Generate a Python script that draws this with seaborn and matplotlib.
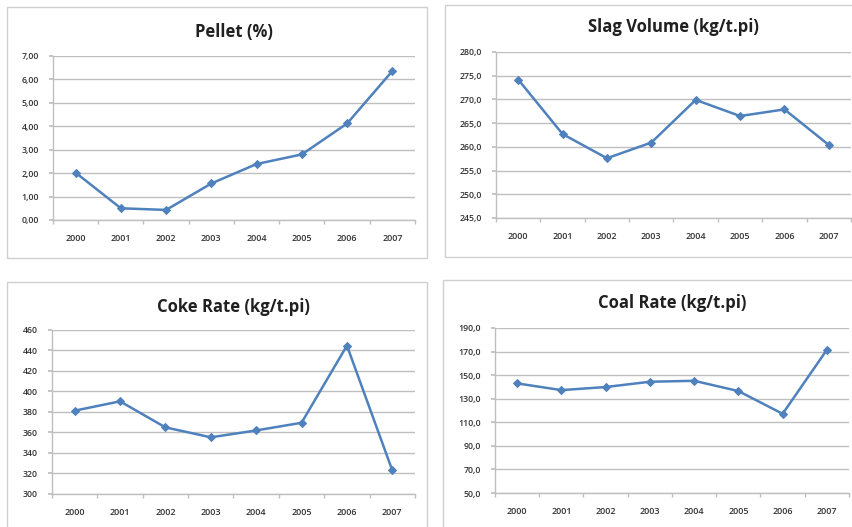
import numpy as np
import pandas as pd
import matplotlib
matplotlib.use("Agg")
import matplotlib.pyplot as plt
from matplotlib.patches import Rectangle
from matplotlib.ticker import FuncFormatter
import seaborn as sns

years = ["2000", "2001", "2002", "2003", "2004", "2005", "2006", "2007"]

pellet = [2.02, 0.50, 0.43, 1.56, 2.39, 2.80, 4.12, 6.36]
slag_volume = [274.2, 262.7, 257.6, 260.9, 269.9, 266.5, 267.9, 260.4]
coke_rate = [381.3, 390.4, 365.0, 355.3, 362.0, 369.5, 444.8, 323.0]
coal_rate = [143.0, 137.3, 139.9, 144.4, 145.2, 136.5, 117.2, 171.5]

sns.set_theme(style="white")
plt.rcParams["font.family"] = ["Open Sans", "DejaVu Sans"]

W, H = 853, 527
fig = plt.figure(figsize=(W / 100, H / 100), dpi=100)
fig.patch.set_facecolor("white")

line_col = "#4F81BD"
grid_col = "#BFBFBF"


def px_rect(left, top, right, bottom):
    return [left / W, 1 - bottom / H, (right - left) / W, (bottom - top) / H]


def add_box(left, top, right, bottom):
    fig.patches.append(Rectangle((left / W, 1 - bottom / H), (right - left) / W,
                                 (bottom - top) / H, transform=fig.transFigure,
                                 fill=False, edgecolor="#D0D0D0", linewidth=1.0))


panels = [
    dict(title="Pellet (%)", values=pellet, ylim=(0, 7), step=1, fmt="{:.2f}",
         rect=(53, 56, 415, 220), title_y=32, box=(7, 7, 427, 258)),
    dict(title="Slag Volume (kg/t.pi)", values=slag_volume, ylim=(245, 280), step=5,
         fmt="{:.1f}", rect=(496, 52, 851, 218), title_y=27, box=(445, 5, 860, 257)),
    dict(title="Coke Rate (kg/t.pi)", values=coke_rate, ylim=(300, 460), step=20,
         fmt="{:.0f}", rect=(52, 330, 415, 494), title_y=307, box=(7, 282, 427, 540)),
    dict(title="Coal Rate (kg/t.pi)", values=coal_rate, ylim=(50, 190), step=20,
         fmt="{:.1f}", rect=(495, 328, 849, 493), title_y=303, box=(443, 280, 860, 540)),
]

for p in panels:
    add_box(*p["box"])
    ax = fig.add_axes(px_rect(*p["rect"]))
    df = pd.DataFrame({"year": years, "value": p["values"]})
    sns.lineplot(data=df, x="year", y="value", ax=ax, color=line_col, linewidth=1.8,
                 marker="D", markersize=4.5, markeredgecolor=line_col, sort=False)
    ax.set_xlim(-0.5, len(years) - 0.5)
    ax.set_ylim(*p["ylim"])
    ax.set_yticks(np.arange(p["ylim"][0], p["ylim"][1] + p["step"] / 2, p["step"]))
    f = p["fmt"]
    ax.yaxis.set_major_formatter(FuncFormatter(lambda v, pos, f=f: f.format(v).replace(".", ",")))
    ax.set_xticks(range(len(years)))
    ax.set_xticks(np.arange(-0.5, len(years)), minor=True)
    ax.tick_params(axis="x", which="major", length=0, labelsize=6.5, colors="#333333", pad=10)
    ax.tick_params(axis="x", which="minor", length=3, color=grid_col, bottom=True)
    ax.tick_params(axis="y", which="major", length=3, color=grid_col, left=True,
                   labelsize=6.3, labelcolor="#333333", pad=7)
    for lab in ax.get_xticklabels() + ax.get_yticklabels():
        lab.set_fontweight("semibold")
    ax.grid(axis="y", color=grid_col, linewidth=1.0)
    ax.set_axisbelow(True)
    for side in ["top", "right"]:
        ax.spines[side].set_visible(False)
    for side in ["left", "bottom"]:
        ax.spines[side].set_color(grid_col)
        ax.spines[side].set_linewidth(1.0)
    ax.set_xlabel("")
    ax.set_ylabel("")
    cx = (p["rect"][0] + p["rect"][2]) / 2
    fig.text(cx / W, 1 - p["title_y"] / H, p["title"], ha="center", va="center",
             fontsize=12, fontweight="bold", color="#202020")

fig.savefig("out.png", dpi=100)
